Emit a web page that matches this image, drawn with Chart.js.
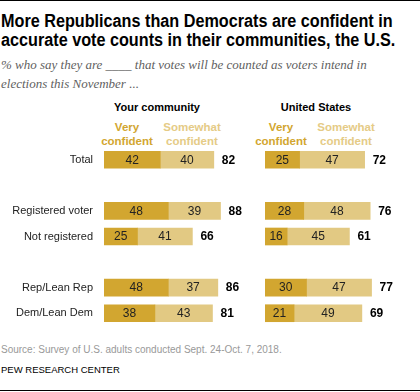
<!DOCTYPE html>
<html><head><meta charset="utf-8">
<script src="https://cdn.jsdelivr.net/npm/chart.js@4/dist/chart.umd.min.js"></script>
<style>
html,body{margin:0;padding:0;background:#fff;}
#wrap{position:relative;width:420px;height:392px;overflow:hidden;font-family:"Liberation Sans",Arial,sans-serif;}
.abs{position:absolute;white-space:nowrap;}
#topline{left:0;top:0;width:420px;height:1px;background:#000;}
#botline{left:0;top:390px;width:420px;height:1px;background:#000;}
#title{left:1px;top:12px;font-size:18px;font-weight:bold;line-height:19px;color:#000;transform:scaleX(0.9);transform-origin:0 0;}
#sub{left:1px;top:55px;font-family:"Liberation Serif","Times New Roman",serif;font-style:italic;font-size:13px;line-height:19px;color:#5f5f5f;}
.hdr{font-size:11px;font-weight:bold;color:#000;transform:translateX(-50%);text-align:center;}
.leg{font-size:11.5px;font-weight:bold;line-height:14px;transform:translateX(-50%);text-align:center;}
.dk{color:#D2A630;}
.lt{color:#E5CB86;}
#src{left:1px;top:344px;font-size:10px;color:#999;}
#pew{left:1px;top:364px;font-size:9.5px;color:#000;}
canvas{position:absolute;}
</style></head>
<body><div id="wrap">
<div id="topline" class="abs"></div>
<div id="title" class="abs">More Republicans than Democrats are confident in<br>accurate vote counts in their communities, the U.S.</div>
<div id="sub" class="abs">% who say they are ____ that votes will be counted as voters intend in<br>elections this November ...</div>
<div class="abs hdr" style="left:157px;top:101px;">Your community</div>
<div class="abs hdr" style="left:316px;top:101px;">United States</div>
<div class="abs leg dk" style="left:127px;top:120px;">Very<br>confident</div>
<div class="abs leg lt" style="left:192px;top:120px;">Somewhat<br>confident</div>
<div class="abs leg dk" style="left:281px;top:120px;">Very<br>confident</div>
<div class="abs leg lt" style="left:346px;top:120px;">Somewhat<br>confident</div>
<canvas id="c1" style="left:0;top:147px;" width="254" height="179"></canvas>
<canvas id="c2" style="left:265px;top:147px;" width="155" height="179"></canvas>
<div id="src" class="abs">Source: Survey of U.S. adults conducted Sept. 24-Oct. 7, 2018.</div>
<div id="pew" class="abs">PEW RESEARCH CENTER</div>
<div id="botline" class="abs"></div>
</div>
<script>
const groups = ['Total', '', 'Registered voter', 'Not registered', '', 'Rep/Lean Rep', 'Dem/Lean Dem'];
const commVery = [42, null, 48, 25, null, 48, 38];
const commSome = [40, null, 39, 41, null, 37, 43];
const commNet  = [82, null, 88, 66, null, 86, 81];
const usVery = [25, null, 28, 16, null, 30, 21];
const usSome = [47, null, 48, 45, null, 47, 49];
const usNet  = [72, null, 76, 61, null, 77, 69];

const DARK = '#D2A630', LIGHT = '#E2C983';
const FONT = '"Liberation Sans", Arial, sans-serif';

const labelPlugin = {
  id: 'labels',
  afterDatasetsDraw(chart, args, opts) {
    const ctx = chart.ctx;
    ctx.save();
    ctx.textBaseline = 'middle';
    chart.data.datasets.forEach((ds, di) => {
      const meta = chart.getDatasetMeta(di);
      meta.data.forEach((bar, i) => {
        const v = ds.data[i];
        if (v == null) return;
        ctx.fillStyle = '#222';
        ctx.font = '12px ' + FONT;
        ctx.textAlign = 'center';
        ctx.fillText(String(v), (bar.x + bar.base) / 2, bar.y + 0.5);
      });
    });
    const last = chart.getDatasetMeta(chart.data.datasets.length - 1);
    last.data.forEach((bar, i) => {
      const n = opts.net[i];
      if (n == null) return;
      ctx.fillStyle = '#000';
      ctx.font = 'bold 12px ' + FONT;
      ctx.textAlign = 'left';
      ctx.fillText(String(n), bar.x + 8, bar.y + 0.5);
    });
    ctx.restore();
  }
};

function makeChart(id, very, some, net, showLabels) {
  return new Chart(document.getElementById(id), {
    type: 'bar',
    data: {
      labels: groups,
      datasets: [
        { label: 'Very confident', data: very, backgroundColor: DARK, barThickness: 17 },
        { label: 'Somewhat confident', data: some, backgroundColor: LIGHT, barThickness: 17 }
      ]
    },
    options: {
      indexAxis: 'y',
      responsive: false,
      animation: false,
      events: [],
      layout: { padding: 0 },
      scales: {
        x: { stacked: true, display: false, min: 0, max: 112 },
        y: {
          stacked: true,
          display: showLabels,
          grid: { display: false, drawTicks: false },
          border: { display: false },
          ticks: { padding: 11, color: '#222', font: { family: FONT, size: 11 } },
          afterFit(scale) {
            scale.width = showLabels ? 104 : 0;
            scale.paddingTop = 0;
            scale.paddingBottom = 0;
          }
        }
      },
      plugins: {
        legend: { display: false },
        tooltip: { enabled: false },
        labels: { net: net }
      }
    },
    plugins: [labelPlugin]
  });
}
makeChart('c1', commVery, commSome, commNet, true);
makeChart('c2', usVery, usSome, usNet, false);
</script>
</body></html>
